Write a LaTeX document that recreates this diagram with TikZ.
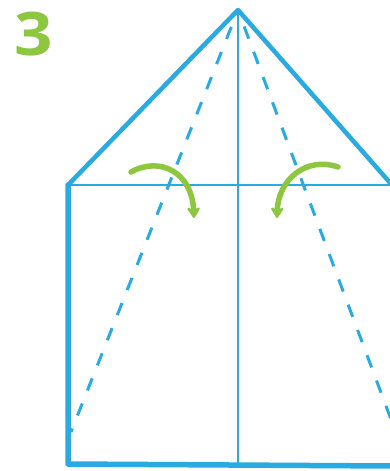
\documentclass[tikz,border=0pt]{standalone}
\usepackage{fontspec}
\setsansfont{Open Sans}
\usetikzlibrary{arrows.meta,calc}
\definecolor{foldblue}{RGB}{41,171,226}
\definecolor{stepgreen}{RGB}{141,198,63}

\begin{document}
\begin{tikzpicture}[
    x=1pt, y=-1pt, line cap=round, line join=round,
    edge/.style={foldblue, line width=4.5pt},
    crease/.style={foldblue, line width=2.2pt},
    valley/.style={foldblue, line width=3pt, dash pattern=on 13pt off 14pt, line cap=butt},
    turn/.style={-{Stealth[round, length=13pt, width=16pt]}, stepgreen, line width=5.5pt},
  ]
  \useasboundingbox (0,0) rectangle (390,471);

  % --- step number ---
  \node[stepgreen, font=\sffamily\bfseries\fontsize{60}{60}\selectfont, inner sep=0pt,
        xscale=1.12]
    (num) at (34,34) {3};

  % --- corners of the folded sheet ---
  \coordinate (apex) at (238,10);
  \coordinate (ul) at (68,185);
  \coordinate (ur) at (392,185);
  \coordinate (ll) at (68,464);
  \coordinate (lr) at (392,466);
  \coordinate (mb) at (238,464);
  \coordinate (dl) at (71,432);
  \coordinate (dr) at (392,422);

  % --- creases ---
  \draw[crease] (ul) -- (ur);
  \draw[crease] (apex) -- (mb);
  \draw[valley] ($(apex)!0.04!(dl)$) -- (dl);
  \draw[valley] ($(apex)!0.04!(dr)$) -- (dr);

  % --- outline ---
  \draw[edge] (ul) -- (apex) -- (ur);
  \draw[edge, line width=5.5pt] (ul) -- (ll) -- (lr);

  % --- fold arrows ---
  \draw[turn] (131,172) .. controls (160,156) and (192,172) .. (194,218);
  \draw[turn] (338,167) .. controls (306,156) and (278,180) .. (277,218);
\end{tikzpicture}
\end{document}
